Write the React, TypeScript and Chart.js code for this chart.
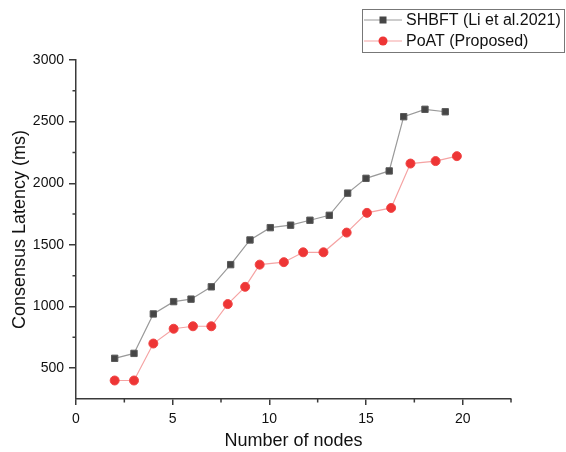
import React, { useEffect, useRef } from "react";
import { Chart, registerables } from "chart.js";

Chart.register(...registerables);

const shbftX = [2, 3, 4, 5.05, 5.95, 7, 8, 9, 10.05, 11.1, 12.1, 13.1, 14.05, 15, 16.2, 16.95, 18.05, 19.1];
const shbftY = [580, 620, 940, 1040, 1060, 1160, 1340, 1540, 1640, 1660, 1700, 1740, 1920, 2040, 2100, 2540, 2600, 2580];
const poatX = [2, 3, 4, 5.05, 6.05, 7, 7.85, 8.75, 9.5, 10.75, 11.75, 12.8, 14, 15.05, 16.3, 17.3, 18.6, 19.7];
const poatY = [400, 400, 700, 820, 840, 840, 1020, 1160, 1340, 1360, 1440, 1440, 1600, 1760, 1800, 2160, 2180, 2220];

const xMajorTicks = [0, 5, 10, 15, 20];
const xMinorTicks = [2.5, 7.5, 12.5, 17.5, 22.5];
const yMajorTicks = [500, 1000, 1500, 2000, 2500, 3000];
const yMinorTicks = [750, 1250, 1750, 2250, 2750];

const seriesNames = ["SHBFT (Li et al.2021)", "PoAT (Proposed)"];

const FONT = "'Liberation Sans', Arial, sans-serif";
const AXIS_COLOR = "#3a3a3a";

const minorTickPlugin = {
  id: "minorTicks",
  afterDraw(chart: any) {
    const ctx = chart.ctx;
    const xs = chart.scales.x;
    const ys = chart.scales.y;
    ctx.save();
    ctx.strokeStyle = AXIS_COLOR;
    ctx.lineWidth = 1.5;
    ctx.beginPath();
    xMinorTicks.forEach((v) => {
      const px = xs.getPixelForValue(v);
      ctx.moveTo(px, xs.top);
      ctx.lineTo(px, xs.top + 3.5);
    });
    yMinorTicks.forEach((v) => {
      const py = ys.getPixelForValue(v);
      ctx.moveTo(ys.right, py);
      ctx.lineTo(ys.right - 3.5, py);
    });
    ctx.stroke();
    ctx.restore();
  },
};

const legendPlugin = {
  id: "customLegend",
  afterDraw(chart: any) {
    const ctx = chart.ctx;
    const left = 362;
    const top = 9;
    const w = 202;
    const h = 43;
    ctx.save();
    ctx.fillStyle = "#ffffff";
    ctx.fillRect(left, top, w, h);
    ctx.strokeStyle = "#777";
    ctx.lineWidth = 1;
    ctx.strokeRect(left + 0.5, top + 0.5, w, h);
    chart.data.datasets.forEach((ds: any, i: number) => {
      const cy = top + 11 + i * 21;
      ctx.strokeStyle = ds.borderColor;
      ctx.lineWidth = 1;
      ctx.beginPath();
      ctx.moveTo(left + 2, cy);
      ctx.lineTo(left + 40, cy);
      ctx.stroke();
      const mx = left + 21;
      ctx.fillStyle = ds.pointBackgroundColor;
      if (ds.pointStyle === "rect") {
        ctx.fillRect(mx - 3.5, cy - 3.5, 7, 7);
      } else {
        ctx.beginPath();
        ctx.arc(mx, cy, 4.5, 0, Math.PI * 2);
        ctx.fill();
      }
      ctx.fillStyle = "#111";
      ctx.font = `16px ${FONT}`;
      ctx.textBaseline = "middle";
      ctx.textAlign = "left";
      ctx.fillText(ds.label, left + 44, cy + 1);
    });
    ctx.restore();
  },
};

export default function App() {
  const ref = useRef<HTMLCanvasElement | null>(null);
  useEffect(() => {
    if (!ref.current) return;
    const chart = new Chart(ref.current, {
      type: "line",
      data: {
        datasets: [
          {
            label: seriesNames[0],
            data: shbftX.map((x, i) => ({ x, y: shbftY[i] })),
            borderColor: "#9a9a9a",
            borderWidth: 1.2,
            backgroundColor: "#464646",
            pointBackgroundColor: "#464646",
            pointBorderColor: "#5a5a5a",
            pointBorderWidth: 1,
            pointStyle: "rect",
            pointRadius: 4.5,
            tension: 0,
          },
          {
            label: seriesNames[1],
            data: poatX.map((x, i) => ({ x, y: poatY[i] })),
            borderColor: "#f5a3a3",
            borderWidth: 1.2,
            backgroundColor: "#ee3535",
            pointBackgroundColor: "#ee3535",
            pointBorderColor: "#f04545",
            pointBorderWidth: 1,
            pointStyle: "circle",
            pointRadius: 4.5,
            tension: 0,
          },
        ],
      },
      options: {
        responsive: false,
        animation: false,
        layout: { padding: { left: 0, top: 60, right: 55, bottom: 0 } },
        plugins: {
          legend: { display: false },
          tooltip: { enabled: false },
        },
        scales: {
          x: {
            type: "linear",
            min: 0,
            max: 22.5,
            afterFit: (s: any) => {
              s.height = 53;
            },
            afterBuildTicks: (s: any) => {
              s.ticks = xMajorTicks.map((v) => ({ value: v }));
            },
            border: { display: true, color: AXIS_COLOR, width: 1.5 },
            grid: {
              display: true,
              drawOnChartArea: false,
              drawTicks: true,
              tickLength: 6,
              color: AXIS_COLOR,
              lineWidth: 1.5,
            },
            ticks: {
              color: "#111",
              font: { family: FONT, size: 14 },
              padding: 6,
              maxRotation: 0,
              autoSkip: false,
              callback: (v: any) => String(v),
            },
            title: {
              display: true,
              text: "Number of nodes",
              color: "#111",
              font: { family: FONT, size: 18 },
              padding: { top: 0, bottom: 0 },
            },
          },
          y: {
            type: "linear",
            min: 250,
            max: 3000,
            afterFit: (s: any) => {
              s.width = 76;
            },
            afterBuildTicks: (s: any) => {
              s.ticks = yMajorTicks.map((v) => ({ value: v }));
            },
            border: { display: true, color: AXIS_COLOR, width: 1.5 },
            grid: {
              display: true,
              drawOnChartArea: false,
              drawTicks: true,
              tickLength: 7,
              color: AXIS_COLOR,
              lineWidth: 1.5,
            },
            ticks: {
              color: "#111",
              font: { family: FONT, size: 14 },
              padding: 5,
              autoSkip: false,
              callback: (v: any) => String(v),
            },
            title: {
              display: true,
              text: "Consensus Latency (ms)",
              color: "#111",
              font: { family: FONT, size: 18 },
              padding: { top: 9, bottom: 0 },
            },
          },
        },
      },
      plugins: [minorTickPlugin, legendPlugin],
    } as any);
    return () => chart.destroy();
  }, []);
  return (
    <div style={{ position: "absolute", left: 0, top: 0, width: 566, height: 452, background: "#fff" }}>
      <canvas ref={ref} width={566} height={452} style={{ width: 566, height: 452, display: "block" }} />
    </div>
  );
}
